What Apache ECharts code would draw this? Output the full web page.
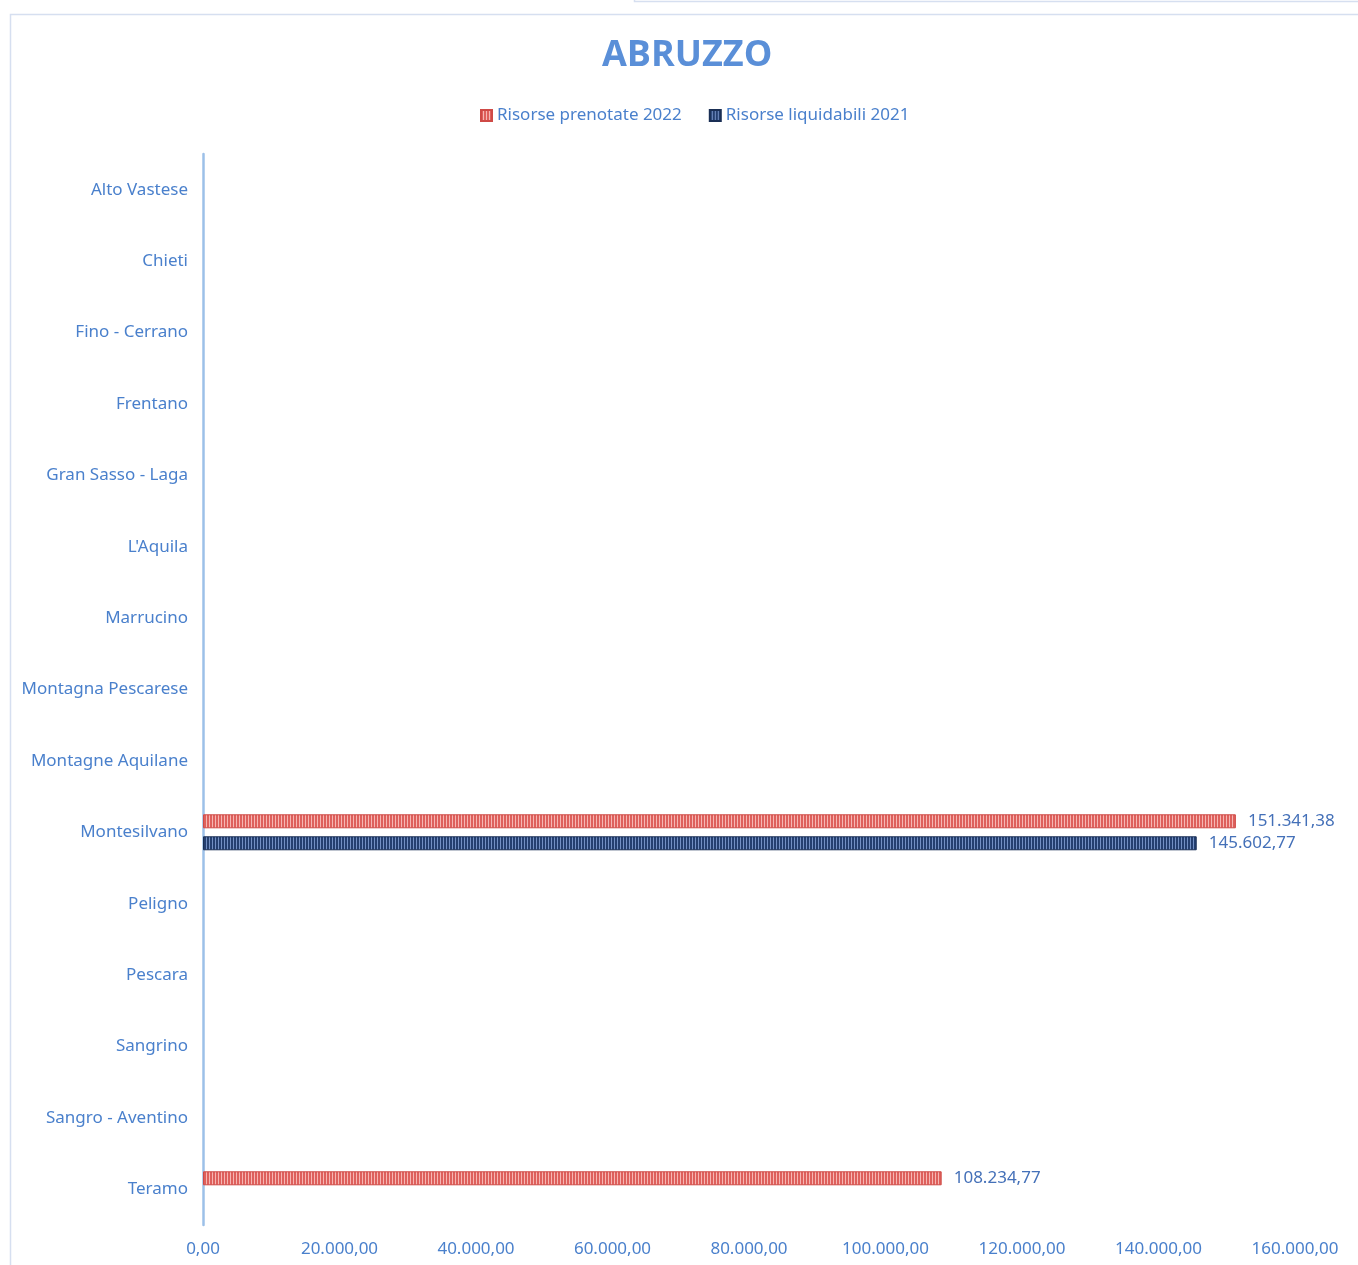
<!DOCTYPE html>
<html><head><meta charset="utf-8">
<script src="https://cdn.jsdelivr.net/npm/echarts@6/dist/echarts.min.js"></script>
<style>html,body{margin:0;padding:0;background:#fff}#c{width:1358px;height:1265px}</style>
</head><body><div id="c"></div>
<script>
const categories = ["Alto Vastese","Chieti","Fino - Cerrano","Frentano","Gran Sasso - Laga","L'Aquila","Marrucino","Montagna Pescarese","Montagne Aquilane","Montesilvano","Peligno","Pescara","Sangrino","Sangro - Aventino","Teramo"];
const prenotate2022 = [null,null,null,null,null,null,null,null,null,151341.38,null,null,null,null,108234.77];
const liquidabili2021 = [null,null,null,null,null,null,null,null,null,145602.77,null,null,null,null,null];
const xTicks = [0,20000,40000,60000,80000,100000,120000,140000,160000];

function fmtIt(v){
  const neg = v < 0; v = Math.abs(v);
  const s = v.toFixed(2).split('.');
  const int = s[0].replace(/\B(?=(\d{3})+(?!\d))/g,'.');
  return (neg?'-':'') + int + ',' + s[1];
}
function stripes(base, light){
  const c = document.createElement('canvas'); c.width = 3; c.height = 4;
  const g = c.getContext('2d');
  g.fillStyle = base; g.fillRect(0,0,3,4);
  g.fillStyle = light; g.fillRect(2,0,1,4);
  return {image: c, repeat: 'repeat'};
}
const txt = '#4a80cc';
const chart = echarts.init(document.getElementById('c'));
chart.setOption({
  backgroundColor:'#fff',
  animation:false,
  title:{text:'ABRUZZO', left:597, top:33, textStyle:{fontFamily:'Open Sans', fontSize:36, fontWeight:'bold', color:'#5a8fd8'}},
  legend:{top:102, left:475, itemWidth:11, itemHeight:11, itemGap:27, icon:'rect', textStyle:{fontFamily:'Noto Sans', fontSize:17, color:txt},
    data:['Risorse prenotate 2022','Risorse liquidabili 2021']},
  grid:{left:203, right:63, top:154, bottom:40, containLabel:false},
  xAxis:{type:'value', min:0, max:160000, interval:20000,
    axisLine:{show:false}, axisTick:{show:false}, splitLine:{show:false},
    axisLabel:{margin:16, fontFamily:'Noto Sans', fontSize:17, color:txt, formatter:v=>fmtIt(v)}},
  yAxis:{type:'category', data:categories, inverse:true,
    axisLine:{show:true, lineStyle:{color:'#9cc0e8', width:2.5}}, axisTick:{show:false},
    axisLabel:{margin:15, fontFamily:'Noto Sans', fontSize:17, color:txt}},
  series:[
    {name:'Risorse prenotate 2022', type:'bar', data:prenotate2022, barWidth:14, barGap:'57%',
      itemStyle:{color:stripes('#de605c','#f6b6b3'), borderColor:'#cf4a46', borderWidth:1},
      label:{show:true, position:'right', distance:12, fontFamily:'Noto Sans', fontSize:17, color:'#4470b8', formatter:p=>fmtIt(p.value)}},
    {name:'Risorse liquidabili 2021', type:'bar', data:liquidabili2021, barWidth:14,
      itemStyle:{color:stripes('#243f70','#7390c4'), borderColor:'#1a2f55', borderWidth:1},
      label:{show:true, position:'right', distance:12, fontFamily:'Noto Sans', fontSize:17, color:'#4470b8', formatter:p=>fmtIt(p.value)}}
  ],
  graphic:[
    {type:'polyline', shape:{points:[[10.5,1265],[10.5,14.5],[1358,14.5]]}, style:{stroke:'#d6dff0', lineWidth:1.5, fill:null}, silent:true},
    {type:'polyline', shape:{points:[[634.5,0],[634.5,1.5],[1358,1.5]]}, style:{stroke:'#d6dff0', lineWidth:1.5, fill:null}, silent:true}
  ]
});
</script></body></html>
